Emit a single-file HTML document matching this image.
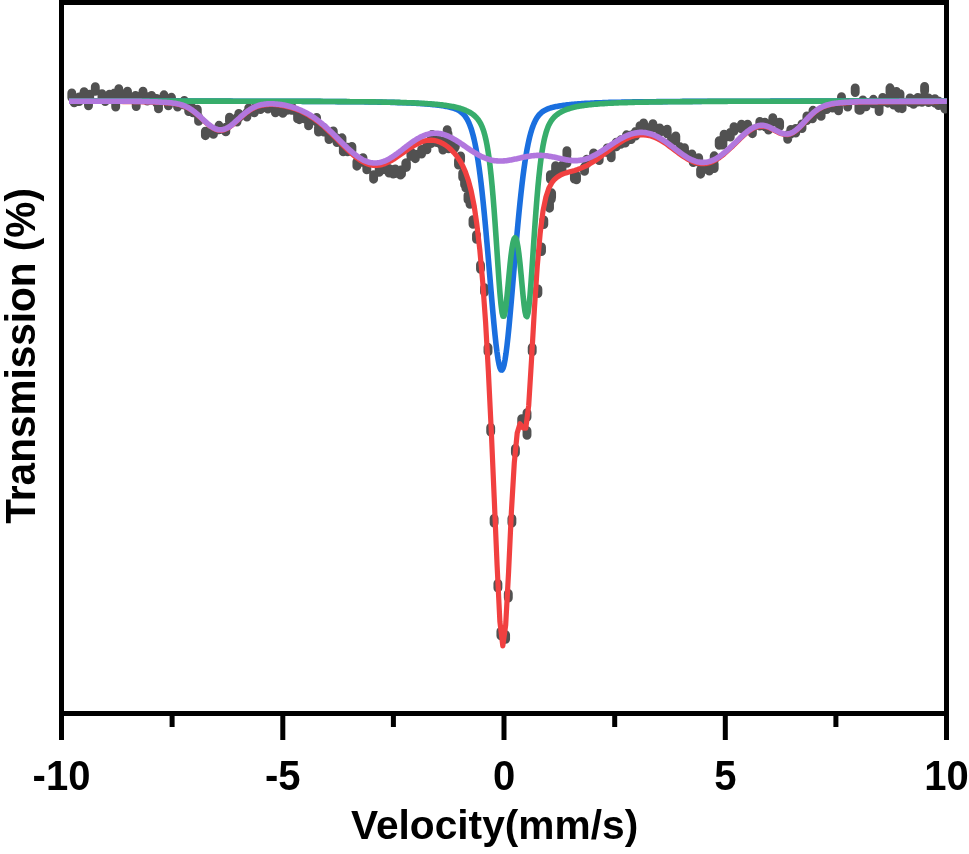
<!DOCTYPE html>
<html><head><meta charset="utf-8"><title>Mossbauer spectrum</title>
<style>
html,body{margin:0;padding:0;background:#fff;}
body{width:969px;height:854px;overflow:hidden;position:relative;font-family:"Liberation Sans",sans-serif;}
svg{position:absolute;left:0;top:0;display:block;}
text{font-family:"Liberation Sans",sans-serif;font-weight:bold;font-size:40px;fill:#000;}
</style></head><body>
<svg width="969" height="854" viewBox="0 0 969 854">
<rect width="969" height="854" fill="#fff"/>
<defs><clipPath id="cp"><rect x="61.5" y="2.5" width="885.4" height="711"/></clipPath></defs>
<g fill="#000">
<rect x="59" y="0" width="890" height="5"/>
<rect x="59" y="0" width="5" height="740"/>
<rect x="944" y="0" width="5" height="740"/>
<rect x="59" y="711" width="890" height="5"/>
<rect x="280.3" y="711" width="5" height="29"/>
<rect x="501.5" y="711" width="5" height="29"/>
<rect x="722.8" y="711" width="5" height="29"/>
<rect x="169.6" y="711" width="5" height="16"/>
<rect x="390.9" y="711" width="5" height="16"/>
<rect x="612.2" y="711" width="5" height="16"/>
<rect x="833.4" y="711" width="5" height="16"/>
</g>
<g clip-path="url(#cp)">
<g fill="none" stroke="#515151" stroke-width="8.9" stroke-linecap="round"><path d="M71.8 93.0v4.6M74.2 98.2v4.6M84.1 91.7v4.6M88.5 101.2v4.6M89.7 94.2v4.6M95.3 86.7v4.6M102.0 93.6v4.6M105.2 96.9v4.6M109.5 94.2v4.6M114.5 93.0v4.6M115.7 102.5v4.6M118.8 88.7v4.6M127.5 91.1v4.6M135.5 95.4v4.6M136.2 101.9v4.6M143.0 91.1v4.6M151.6 95.4v4.6M156.6 98.5v4.6M158.5 104.3v4.6M164.0 94.8v4.6M168.4 101.2v4.6M171.5 97.3v4.6M177.6 102.5v4.6M184.3 100.5v4.6M188.7 106.9v4.6M197.3 109.2v4.6M198.6 116.8v4.6M205.4 131.1v4.6M213.4 129.8v4.6M219.0 125.3v4.6M225.8 127.3v4.6M229.5 117.2v4.6M237.0 117.4v4.6M238.8 113.5v4.6M246.9 112.5v4.6M248.7 107.9v4.6M254.3 108.2v4.6M260.5 105.0v4.6M267.9 104.4v4.6M275.4 108.2v4.6M282.8 108.8v4.6M291.5 105.7v4.6M297.6 114.3v4.6M299.3 115.1v4.6M308.6 121.3v4.6M316.6 117.4v4.6M318.5 127.5v4.6M329.0 135.0v4.6M333.3 131.0v4.6M337.0 138.0v4.6M342.0 137.8v4.6M343.3 147.3v4.6M351.9 146.5v4.6M356.9 161.6v4.6M363.0 157.7v4.6M366.8 165.3v4.6M373.6 174.6v4.6M379.2 167.8v4.6M389.0 168.4v4.6M393.2 169.5v4.6M395.3 169.0v4.6M400.5 170.5v4.6M401.5 169.6v4.6M405.8 163.0v4.6M406.4 162.7v4.6M415.3 154.1v4.6M421.6 149.5v4.6M426.9 145.3v4.6M431.1 138.9v4.6M432.1 134.4v4.6M441.6 141.0v4.6M442.9 145.5v4.6M447.2 129.6v4.6M448.0 133.4v4.6M448.5 144.2v4.6M454.4 144.1v4.6M455.3 142.5v4.6M458.5 160.4v4.6M460.6 156.0v4.6M462.7 173.0v4.6M464.6 180.2v4.6M465.9 183.6v4.6M468.0 195.2v4.6M470.0 199.7v4.6M473.0 219.7v4.6M476.5 234.7v4.6M480.5 264.7v4.6M484.5 287.7v4.6M488.0 347.3v4.6M490.7 427.4v4.6M494.1 518.5v4.6M497.9 583.5v4.6M500.9 631.2v4.6M505.6 634.7v4.6M508.3 593.5v4.6M511.9 518.5v4.6M515.4 448.5v4.6M521.7 418.7v4.6M527.0 412.7v4.6M527.0 430.7v4.6M532.2 347.3v4.6M537.9 289.0v4.6M541.5 246.9v4.6M543.8 219.9v4.6M549.5 203.6v4.6M550.4 174.7v4.6M551.3 194.7v4.6M551.6 192.8v4.6M555.6 165.7v4.6M557.2 167.7v4.6M566.9 150.7v4.6M567.0 158.7v4.6M574.4 174.4v4.6M576.5 175.3v4.6M584.5 166.8v4.6M586.8 159.2v4.6M593.6 153.0v4.6M599.2 156.0v4.6M607.2 147.9v4.6M611.2 153.2v4.6M616.3 142.2v4.6M625.3 138.5v4.6M626.5 134.8v4.6M631.2 135.0v4.6M635.6 131.4v4.6M640.0 125.7v4.6M643.6 123.0v4.6M652.9 123.6v4.6M659.7 127.9v4.6M667.2 129.2v4.6M675.8 136.0v4.6M684.5 147.7v4.6M691.9 153.9v4.6M693.2 157.9v4.6M698.7 157.7v4.6M700.6 169.6v4.6M709.3 166.5v4.6M714.2 155.8v4.6M714.2 164.0v4.6M719.2 140.7v4.6M722.9 140.5v4.6M724.1 134.1v4.6M730.3 132.5v4.6M734.0 126.7v4.6M741.5 124.2v4.6M747.6 124.2v4.6M752.4 129.1v4.6M759.8 121.4v4.6M764.8 122.1v4.6M768.5 125.4v4.6M772.8 117.7v4.6M779.6 122.1v4.6M787.7 134.7v4.6M790.8 129.5v4.6M795.7 128.4v4.6M802.0 123.9v4.6M806.9 115.9v4.6M812.4 114.3v4.6M813.0 110.3v4.6M821.1 111.8v4.6M826.7 105.0v4.6M838.5 106.2v4.6M841.5 96.7v4.6M847.7 102.5v4.6M855.2 88.0v4.6M858.9 105.6v4.6M860.3 105.8v4.6M862.9 100.0v4.6M866.1 102.2v4.6M873.4 99.3v4.6M879.1 106.9v4.6M882.7 97.5v4.6M887.8 98.6v4.6M890.0 87.8v4.6M893.6 100.4v4.6M896.5 91.4v4.6M898.6 103.6v4.6M900.0 93.6v4.6M902.1 104.1v4.6M910.0 97.9v4.6M913.5 99.8v4.6M917.8 97.5v4.6M922.0 97.7v4.6M924.6 86.5v4.6M928.5 98.0v4.6M934.9 98.6v4.6M938.5 100.9v4.6M944.9 104.4v4.6M79.2 97.0v4.6M123.2 94.6v4.6M147.3 96.4v4.6M193.0 108.3v4.6M287.1 105.7v4.6M304.0 114.2v4.6M323.8 127.5v4.6M347.6 147.2v4.6M384.1 165.0v4.6M410.9 151.6v4.6M436.9 137.9v4.6M562.0 165.3v4.6M620.8 139.8v4.6M648.2 127.9v4.6M671.5 138.9v4.6M680.1 146.8v4.6M705.0 164.8v4.6M832.6 103.5v4.6"/></g>
<g fill="none" stroke-width="5.6" stroke-linejoin="miter" stroke-linecap="butt">
<path stroke="#F14040" stroke-width="5.2" stroke-linejoin="round" d="M69.0 101.4 L71.6 101.4 L74.4 101.4 L77.3 101.4 L80.2 101.4 L83.1 101.4 L85.9 101.4 L88.8 101.4 L91.7 101.5 L94.6 101.5 L97.4 101.5 L100.3 101.5 L103.2 101.5 L106.1 101.5 L108.9 101.5 L111.8 101.5 L114.7 101.5 L117.6 101.5 L120.4 101.5 L123.3 101.6 L126.2 101.6 L129.1 101.6 L131.9 101.6 L134.8 101.6 L137.7 101.7 L140.6 101.7 L143.4 101.8 L146.3 101.8 L149.2 101.9 L152.1 102.0 L154.9 102.1 L157.8 102.3 L160.7 102.4 L163.6 102.6 L166.4 102.8 L169.3 103.0 L172.2 103.3 L175.1 103.7 L177.9 104.2 L180.8 105.0 L183.7 106.0 L186.6 107.2 L189.4 108.8 L192.3 110.7 L195.2 112.9 L198.1 115.3 L200.9 118.0 L203.8 120.7 L206.7 123.3 L209.6 125.7 L212.4 127.7 L215.3 129.3 L218.2 130.2 L221.1 130.4 L223.9 129.9 L226.8 128.7 L229.7 127.0 L232.6 124.8 L235.4 122.4 L238.3 119.7 L241.2 117.1 L244.1 114.6 L246.9 112.3 L249.8 110.3 L252.7 108.6 L255.6 107.2 L258.4 106.1 L261.3 105.4 L264.2 104.9 L267.1 104.6 L269.9 104.5 L272.8 104.5 L275.7 104.7 L278.6 105.0 L281.4 105.4 L284.3 106.0 L287.2 106.6 L290.1 107.3 L292.9 108.2 L295.8 109.1 L298.7 110.2 L301.6 111.5 L304.4 112.9 L307.3 114.4 L310.2 116.2 L313.1 118.0 L315.9 120.1 L318.8 122.3 L321.7 124.6 L324.6 127.1 L327.4 129.8 L330.3 132.5 L333.2 135.3 L336.1 138.2 L338.9 141.1 L341.8 144.1 L344.7 147.0 L347.6 149.8 L350.4 152.5 L353.3 155.0 L356.2 157.4 L359.1 159.5 L361.9 161.3 L364.8 162.8 L367.7 164.0 L370.6 164.9 L373.4 165.4 L376.3 165.5 L379.2 165.2 L382.1 164.6 L384.9 163.7 L387.8 162.4 L390.7 161.0 L393.6 159.3 L396.4 157.4 L399.3 155.4 L402.2 153.4 L405.1 151.3 L407.9 149.3 L410.8 147.4 L413.7 145.7 L416.6 144.1 L419.4 142.7 L422.3 141.6 L425.2 140.8 L428.1 140.3 L430.9 140.2 L433.8 140.4 L436.7 141.0 L439.6 141.9 L442.4 143.3 L445.3 145.0 L448.2 147.1 L451.1 149.7 L453.9 152.7 L456.8 156.2 L459.7 160.4 L462.6 165.5 L465.4 171.9 L468.3 180.1 L471.2 191.0 L474.1 205.5 L476.9 224.7 L479.8 249.8 L482.7 281.9 L485.6 322.3 L488.4 372.0 L491.3 431.1 L494.2 497.7 L497.1 565.5 L499.9 621.8 L502.8 646.0 L505.7 624.8 L508.6 571.6 L511.4 511.7 L514.3 462.7 L517.2 433.0 L520.0 423.7 L522.9 427.8 L525.8 428.2 L528.7 405.5 L531.5 360.2 L534.4 309.4 L537.3 265.7 L540.2 233.1 L543.0 211.0 L545.9 197.0 L548.8 188.3 L551.7 182.9 L554.5 179.4 L557.4 177.0 L560.3 175.2 L563.2 173.9 L566.0 172.9 L568.9 172.0 L571.8 171.2 L574.7 170.4 L577.5 169.5 L580.4 168.4 L583.3 167.2 L586.2 165.9 L589.0 164.3 L591.9 162.6 L594.8 160.8 L597.7 158.8 L600.5 156.7 L603.4 154.5 L606.3 152.3 L609.2 150.2 L612.0 148.0 L614.9 145.9 L617.8 143.9 L620.7 142.0 L623.5 140.3 L626.4 138.8 L629.3 137.5 L632.2 136.4 L635.0 135.6 L637.9 135.1 L640.8 134.8 L643.7 134.8 L646.5 135.1 L649.4 135.6 L652.3 136.5 L655.2 137.6 L658.0 138.9 L660.9 140.5 L663.8 142.3 L666.7 144.2 L669.5 146.3 L672.4 148.4 L675.3 150.6 L678.2 152.8 L681.0 154.8 L683.9 156.8 L686.8 158.6 L689.7 160.2 L692.5 161.5 L695.4 162.6 L698.3 163.3 L701.2 163.7 L704.0 163.7 L706.9 163.3 L709.8 162.6 L712.7 161.5 L715.5 160.0 L718.4 158.3 L721.3 156.2 L724.2 153.9 L727.0 151.4 L729.9 148.7 L732.8 146.0 L735.7 143.1 L738.5 140.3 L741.4 137.5 L744.3 134.9 L747.2 132.4 L750.0 130.3 L752.9 128.5 L755.8 127.2 L758.7 126.4 L761.5 126.1 L764.4 126.3 L767.3 127.0 L770.2 128.2 L773.0 129.6 L775.9 131.2 L778.8 132.7 L781.7 133.8 L784.5 134.5 L787.4 134.6 L790.3 134.0 L793.2 132.7 L796.0 130.7 L798.9 128.1 L801.8 125.2 L804.7 122.1 L807.5 119.0 L810.4 116.0 L813.3 113.3 L816.2 110.9 L819.0 109.0 L821.9 107.4 L824.8 106.2 L827.7 105.2 L830.5 104.5 L833.4 103.9 L836.3 103.5 L839.2 103.2 L842.0 103.0 L844.9 102.8 L847.8 102.6 L850.7 102.4 L853.5 102.3 L856.4 102.2 L859.3 102.1 L862.2 102.0 L865.0 102.0 L867.9 101.9 L870.8 101.9 L873.7 101.9 L876.5 101.8 L879.4 101.8 L882.3 101.8 L885.2 101.8 L888.0 101.8 L890.9 101.7 L893.8 101.7 L896.7 101.7 L899.5 101.7 L902.4 101.7 L905.3 101.7 L908.2 101.7 L911.0 101.7 L913.9 101.6 L916.8 101.6 L919.7 101.6 L922.5 101.6 L925.4 101.6 L928.3 101.6 L931.2 101.6 L934.0 101.6 L936.9 101.6 L939.8 101.5 L942.7 101.5 L945.5 101.5 L948.0 101.5"/>
<path stroke="#1A6FDF" stroke-linejoin="round" d="M69.0 101.0 L70.0 101.0 L71.0 101.0 L72.0 101.0 L73.0 101.0 L74.0 101.0 L75.0 101.0 L76.0 101.0 L77.0 101.0 L78.0 101.0 L79.0 101.0 L80.0 101.0 L81.0 101.0 L82.0 101.0 L83.0 101.0 L84.0 101.0 L85.0 101.0 L86.0 101.0 L87.0 101.0 L88.0 101.0 L89.0 101.0 L90.0 101.0 L91.0 101.0 L92.0 101.0 L93.0 101.0 L94.0 101.0 L95.0 101.0 L96.0 101.0 L97.0 101.0 L98.0 101.0 L99.0 101.0 L100.0 101.0 L101.0 101.0 L102.0 101.0 L103.0 101.0 L104.0 101.0 L105.0 101.0 L106.0 101.0 L107.0 101.0 L108.0 101.0 L109.0 101.0 L110.0 101.0 L111.0 101.0 L112.0 101.0 L113.0 101.0 L114.0 101.0 L115.0 101.0 L116.0 101.0 L117.0 101.0 L118.0 101.0 L119.0 101.0 L120.0 101.0 L121.0 101.0 L122.0 101.0 L123.0 101.0 L124.0 101.0 L125.0 101.0 L126.0 101.0 L127.0 101.0 L128.0 101.0 L129.0 101.0 L130.0 101.0 L131.0 101.0 L132.0 101.0 L133.0 101.0 L134.0 101.0 L135.0 101.0 L136.0 101.0 L137.0 101.0 L138.0 101.0 L139.0 101.0 L140.0 101.0 L141.0 101.0 L142.0 101.0 L143.0 101.0 L144.0 101.0 L145.0 101.0 L146.0 101.0 L147.0 101.0 L148.0 101.0 L149.0 101.0 L150.0 101.0 L151.0 101.0 L152.0 101.0 L153.0 101.0 L154.0 101.0 L155.0 101.1 L156.0 101.1 L157.0 101.1 L158.0 101.1 L159.0 101.1 L160.0 101.1 L161.0 101.1 L162.0 101.1 L163.0 101.1 L164.0 101.1 L165.0 101.1 L166.0 101.1 L167.0 101.1 L168.0 101.1 L169.0 101.1 L170.0 101.1 L171.0 101.1 L172.0 101.1 L173.0 101.1 L174.0 101.1 L175.0 101.1 L176.0 101.1 L177.0 101.1 L178.0 101.1 L179.0 101.1 L180.0 101.1 L181.0 101.1 L182.0 101.1 L183.0 101.1 L184.0 101.1 L185.0 101.1 L186.0 101.1 L187.0 101.1 L188.0 101.1 L189.0 101.1 L190.0 101.1 L191.0 101.1 L192.0 101.1 L193.0 101.1 L194.0 101.1 L195.0 101.1 L196.0 101.1 L197.0 101.1 L198.0 101.1 L199.0 101.1 L200.0 101.1 L201.0 101.1 L202.0 101.1 L203.0 101.1 L204.0 101.1 L205.0 101.1 L206.0 101.1 L207.0 101.1 L208.0 101.1 L209.0 101.1 L210.0 101.1 L211.0 101.1 L212.0 101.1 L213.0 101.1 L214.0 101.1 L215.0 101.1 L216.0 101.1 L217.0 101.1 L218.0 101.1 L219.0 101.1 L220.0 101.1 L221.0 101.1 L222.0 101.1 L223.0 101.1 L224.0 101.1 L225.0 101.1 L226.0 101.1 L227.0 101.1 L228.0 101.1 L229.0 101.1 L230.0 101.1 L231.0 101.1 L232.0 101.1 L233.0 101.2 L234.0 101.2 L235.0 101.2 L236.0 101.2 L237.0 101.2 L238.0 101.2 L239.0 101.2 L240.0 101.2 L241.0 101.2 L242.0 101.2 L243.0 101.2 L244.0 101.2 L245.0 101.2 L246.0 101.2 L247.0 101.2 L248.0 101.2 L249.0 101.2 L250.0 101.2 L251.0 101.2 L252.0 101.2 L253.0 101.2 L254.0 101.2 L255.0 101.2 L256.0 101.2 L257.0 101.2 L258.0 101.2 L259.0 101.2 L260.0 101.2 L261.0 101.2 L262.0 101.2 L263.0 101.2 L264.0 101.2 L265.0 101.2 L266.0 101.2 L267.0 101.2 L268.0 101.2 L269.0 101.2 L270.0 101.2 L271.0 101.2 L272.0 101.2 L273.0 101.2 L274.0 101.2 L275.0 101.3 L276.0 101.3 L277.0 101.3 L278.0 101.3 L279.0 101.3 L280.0 101.3 L281.0 101.3 L282.0 101.3 L283.0 101.3 L284.0 101.3 L285.0 101.3 L286.0 101.3 L287.0 101.3 L288.0 101.3 L289.0 101.3 L290.0 101.3 L291.0 101.3 L292.0 101.3 L293.0 101.3 L294.0 101.3 L295.0 101.3 L296.0 101.3 L297.0 101.3 L298.0 101.3 L299.0 101.3 L300.0 101.3 L301.0 101.3 L302.0 101.4 L303.0 101.4 L304.0 101.4 L305.0 101.4 L306.0 101.4 L307.0 101.4 L308.0 101.4 L309.0 101.4 L310.0 101.4 L311.0 101.4 L312.0 101.4 L313.0 101.4 L314.0 101.4 L315.0 101.4 L316.0 101.4 L317.0 101.4 L318.0 101.4 L319.0 101.4 L320.0 101.4 L321.0 101.5 L322.0 101.5 L323.0 101.5 L324.0 101.5 L325.0 101.5 L326.0 101.5 L327.0 101.5 L328.0 101.5 L329.0 101.5 L330.0 101.5 L331.0 101.5 L332.0 101.5 L333.0 101.5 L334.0 101.5 L335.0 101.5 L336.0 101.6 L337.0 101.6 L338.0 101.6 L339.0 101.6 L340.0 101.6 L341.0 101.6 L342.0 101.6 L343.0 101.6 L344.0 101.6 L345.0 101.6 L346.0 101.6 L347.0 101.7 L348.0 101.7 L349.0 101.7 L350.0 101.7 L351.0 101.7 L352.0 101.7 L353.0 101.7 L354.0 101.7 L355.0 101.7 L356.0 101.7 L357.0 101.8 L358.0 101.8 L359.0 101.8 L360.0 101.8 L361.0 101.8 L362.0 101.8 L363.0 101.8 L364.0 101.8 L365.0 101.9 L366.0 101.9 L367.0 101.9 L368.0 101.9 L369.0 101.9 L370.0 101.9 L371.0 101.9 L372.0 102.0 L373.0 102.0 L374.0 102.0 L375.0 102.0 L376.0 102.0 L377.0 102.0 L378.0 102.1 L379.0 102.1 L380.0 102.1 L381.0 102.1 L382.0 102.1 L383.0 102.2 L384.0 102.2 L385.0 102.2 L386.0 102.2 L387.0 102.3 L388.0 102.3 L389.0 102.3 L390.0 102.3 L391.0 102.4 L392.0 102.4 L393.0 102.4 L394.0 102.4 L395.0 102.5 L396.0 102.5 L397.0 102.5 L398.0 102.6 L399.0 102.6 L400.0 102.6 L401.0 102.7 L402.0 102.7 L403.0 102.7 L404.0 102.8 L405.0 102.8 L406.0 102.8 L407.0 102.9 L408.0 102.9 L409.0 103.0 L410.0 103.0 L411.0 103.0 L412.0 103.1 L413.0 103.1 L414.0 103.2 L415.0 103.2 L416.0 103.3 L417.0 103.4 L418.0 103.4 L419.0 103.5 L420.0 103.5 L421.0 103.6 L422.0 103.7 L423.0 103.7 L424.0 103.8 L425.0 103.9 L426.0 103.9 L427.0 104.0 L428.0 104.1 L429.0 104.2 L430.0 104.3 L431.0 104.4 L432.0 104.5 L433.0 104.6 L434.0 104.7 L435.0 104.8 L436.0 104.9 L437.0 105.0 L438.0 105.1 L439.0 105.3 L440.0 105.4 L441.0 105.5 L442.0 105.7 L443.0 105.8 L444.0 106.0 L445.0 106.2 L446.0 106.4 L447.0 106.6 L448.0 106.8 L449.0 107.0 L450.0 107.2 L451.0 107.5 L452.0 107.8 L453.0 108.1 L454.0 108.4 L455.0 108.7 L456.0 109.1 L457.0 109.6 L458.0 110.1 L459.0 110.6 L460.0 111.2 L461.0 112.0 L462.0 112.8 L463.0 113.7 L464.0 114.8 L465.0 116.0 L466.0 117.4 L467.0 119.0 L468.0 120.9 L469.0 123.0 L470.0 125.5 L471.0 128.2 L472.0 131.4 L473.0 135.0 L474.0 139.0 L475.0 143.5 L476.0 148.6 L477.0 154.2 L478.0 160.4 L479.0 167.2 L480.0 174.7 L481.0 182.7 L482.0 191.4 L483.0 200.7 L484.0 210.6 L485.0 221.0 L486.0 231.9 L487.0 243.2 L488.0 254.8 L489.0 266.7 L490.0 278.6 L491.0 290.6 L492.0 302.3 L493.0 313.7 L494.0 324.6 L495.0 334.7 L496.0 344.0 L497.0 352.1 L498.0 358.9 L499.0 364.2 L500.0 367.9 L501.0 369.9 L502.0 370.1 L503.0 368.4 L504.0 365.1 L505.0 360.0 L506.0 353.5 L507.0 345.6 L508.0 336.6 L509.0 326.6 L510.0 315.8 L511.0 304.5 L512.0 292.8 L513.0 280.9 L514.0 269.0 L515.0 257.1 L516.0 245.4 L517.0 234.0 L518.0 223.1 L519.0 212.6 L520.0 202.6 L521.0 193.2 L522.0 184.4 L523.0 176.2 L524.0 168.6 L525.0 161.7 L526.0 155.4 L527.0 149.6 L528.0 144.5 L529.0 139.9 L530.0 135.7 L531.0 132.1 L532.0 128.8 L533.0 126.0 L534.0 123.5 L535.0 121.3 L536.0 119.4 L537.0 117.7 L538.0 116.3 L539.0 115.0 L540.0 113.9 L541.0 112.9 L542.0 112.1 L543.0 111.4 L544.0 110.7 L545.0 110.2 L546.0 109.7 L547.0 109.2 L548.0 108.8 L549.0 108.4 L550.0 108.1 L551.0 107.8 L552.0 107.5 L553.0 107.3 L554.0 107.0 L555.0 106.8 L556.0 106.6 L557.0 106.4 L558.0 106.2 L559.0 106.0 L560.0 105.9 L561.0 105.7 L562.0 105.6 L563.0 105.4 L564.0 105.3 L565.0 105.2 L566.0 105.0 L567.0 104.9 L568.0 104.8 L569.0 104.7 L570.0 104.6 L571.0 104.5 L572.0 104.4 L573.0 104.3 L574.0 104.2 L575.0 104.1 L576.0 104.0 L577.0 104.0 L578.0 103.9 L579.0 103.8 L580.0 103.7 L581.0 103.7 L582.0 103.6 L583.0 103.5 L584.0 103.5 L585.0 103.4 L586.0 103.4 L587.0 103.3 L588.0 103.3 L589.0 103.2 L590.0 103.2 L591.0 103.1 L592.0 103.1 L593.0 103.0 L594.0 103.0 L595.0 102.9 L596.0 102.9 L597.0 102.8 L598.0 102.8 L599.0 102.8 L600.0 102.7 L601.0 102.7 L602.0 102.7 L603.0 102.6 L604.0 102.6 L605.0 102.6 L606.0 102.5 L607.0 102.5 L608.0 102.5 L609.0 102.4 L610.0 102.4 L611.0 102.4 L612.0 102.4 L613.0 102.3 L614.0 102.3 L615.0 102.3 L616.0 102.3 L617.0 102.2 L618.0 102.2 L619.0 102.2 L620.0 102.2 L621.0 102.2 L622.0 102.1 L623.0 102.1 L624.0 102.1 L625.0 102.1 L626.0 102.1 L627.0 102.0 L628.0 102.0 L629.0 102.0 L630.0 102.0 L631.0 102.0 L632.0 102.0 L633.0 101.9 L634.0 101.9 L635.0 101.9 L636.0 101.9 L637.0 101.9 L638.0 101.9 L639.0 101.8 L640.0 101.8 L641.0 101.8 L642.0 101.8 L643.0 101.8 L644.0 101.8 L645.0 101.8 L646.0 101.8 L647.0 101.7 L648.0 101.7 L649.0 101.7 L650.0 101.7 L651.0 101.7 L652.0 101.7 L653.0 101.7 L654.0 101.7 L655.0 101.7 L656.0 101.7 L657.0 101.6 L658.0 101.6 L659.0 101.6 L660.0 101.6 L661.0 101.6 L662.0 101.6 L663.0 101.6 L664.0 101.6 L665.0 101.6 L666.0 101.6 L667.0 101.6 L668.0 101.5 L669.0 101.5 L670.0 101.5 L671.0 101.5 L672.0 101.5 L673.0 101.5 L674.0 101.5 L675.0 101.5 L676.0 101.5 L677.0 101.5 L678.0 101.5 L679.0 101.5 L680.0 101.5 L681.0 101.5 L682.0 101.5 L683.0 101.4 L684.0 101.4 L685.0 101.4 L686.0 101.4 L687.0 101.4 L688.0 101.4 L689.0 101.4 L690.0 101.4 L691.0 101.4 L692.0 101.4 L693.0 101.4 L694.0 101.4 L695.0 101.4 L696.0 101.4 L697.0 101.4 L698.0 101.4 L699.0 101.4 L700.0 101.4 L701.0 101.4 L702.0 101.3 L703.0 101.3 L704.0 101.3 L705.0 101.3 L706.0 101.3 L707.0 101.3 L708.0 101.3 L709.0 101.3 L710.0 101.3 L711.0 101.3 L712.0 101.3 L713.0 101.3 L714.0 101.3 L715.0 101.3 L716.0 101.3 L717.0 101.3 L718.0 101.3 L719.0 101.3 L720.0 101.3 L721.0 101.3 L722.0 101.3 L723.0 101.3 L724.0 101.3 L725.0 101.3 L726.0 101.3 L727.0 101.3 L728.0 101.3 L729.0 101.2 L730.0 101.2 L731.0 101.2 L732.0 101.2 L733.0 101.2 L734.0 101.2 L735.0 101.2 L736.0 101.2 L737.0 101.2 L738.0 101.2 L739.0 101.2 L740.0 101.2 L741.0 101.2 L742.0 101.2 L743.0 101.2 L744.0 101.2 L745.0 101.2 L746.0 101.2 L747.0 101.2 L748.0 101.2 L749.0 101.2 L750.0 101.2 L751.0 101.2 L752.0 101.2 L753.0 101.2 L754.0 101.2 L755.0 101.2 L756.0 101.2 L757.0 101.2 L758.0 101.2 L759.0 101.2 L760.0 101.2 L761.0 101.2 L762.0 101.2 L763.0 101.2 L764.0 101.2 L765.0 101.2 L766.0 101.2 L767.0 101.2 L768.0 101.2 L769.0 101.2 L770.0 101.2 L771.0 101.1 L772.0 101.1 L773.0 101.1 L774.0 101.1 L775.0 101.1 L776.0 101.1 L777.0 101.1 L778.0 101.1 L779.0 101.1 L780.0 101.1 L781.0 101.1 L782.0 101.1 L783.0 101.1 L784.0 101.1 L785.0 101.1 L786.0 101.1 L787.0 101.1 L788.0 101.1 L789.0 101.1 L790.0 101.1 L791.0 101.1 L792.0 101.1 L793.0 101.1 L794.0 101.1 L795.0 101.1 L796.0 101.1 L797.0 101.1 L798.0 101.1 L799.0 101.1 L800.0 101.1 L801.0 101.1 L802.0 101.1 L803.0 101.1 L804.0 101.1 L805.0 101.1 L806.0 101.1 L807.0 101.1 L808.0 101.1 L809.0 101.1 L810.0 101.1 L811.0 101.1 L812.0 101.1 L813.0 101.1 L814.0 101.1 L815.0 101.1 L816.0 101.1 L817.0 101.1 L818.0 101.1 L819.0 101.1 L820.0 101.1 L821.0 101.1 L822.0 101.1 L823.0 101.1 L824.0 101.1 L825.0 101.1 L826.0 101.1 L827.0 101.1 L828.0 101.1 L829.0 101.1 L830.0 101.1 L831.0 101.1 L832.0 101.1 L833.0 101.1 L834.0 101.1 L835.0 101.1 L836.0 101.1 L837.0 101.1 L838.0 101.1 L839.0 101.1 L840.0 101.1 L841.0 101.1 L842.0 101.1 L843.0 101.1 L844.0 101.1 L845.0 101.1 L846.0 101.1 L847.0 101.1 L848.0 101.1 L849.0 101.0 L850.0 101.0 L851.0 101.0 L852.0 101.0 L853.0 101.0 L854.0 101.0 L855.0 101.0 L856.0 101.0 L857.0 101.0 L858.0 101.0 L859.0 101.0 L860.0 101.0 L861.0 101.0 L862.0 101.0 L863.0 101.0 L864.0 101.0 L865.0 101.0 L866.0 101.0 L867.0 101.0 L868.0 101.0 L869.0 101.0 L870.0 101.0 L871.0 101.0 L872.0 101.0 L873.0 101.0 L874.0 101.0 L875.0 101.0 L876.0 101.0 L877.0 101.0 L878.0 101.0 L879.0 101.0 L880.0 101.0 L881.0 101.0 L882.0 101.0 L883.0 101.0 L884.0 101.0 L885.0 101.0 L886.0 101.0 L887.0 101.0 L888.0 101.0 L889.0 101.0 L890.0 101.0 L891.0 101.0 L892.0 101.0 L893.0 101.0 L894.0 101.0 L895.0 101.0 L896.0 101.0 L897.0 101.0 L898.0 101.0 L899.0 101.0 L900.0 101.0 L901.0 101.0 L902.0 101.0 L903.0 101.0 L904.0 101.0 L905.0 101.0 L906.0 101.0 L907.0 101.0 L908.0 101.0 L909.0 101.0 L910.0 101.0 L911.0 101.0 L912.0 101.0 L913.0 101.0 L914.0 101.0 L915.0 101.0 L916.0 101.0 L917.0 101.0 L918.0 101.0 L919.0 101.0 L920.0 101.0 L921.0 101.0 L922.0 101.0 L923.0 101.0 L924.0 101.0 L925.0 101.0 L926.0 101.0 L927.0 101.0 L928.0 101.0 L929.0 101.0 L930.0 101.0 L931.0 101.0 L932.0 101.0 L933.0 101.0 L934.0 101.0 L935.0 101.0 L936.0 101.0 L937.0 101.0 L938.0 101.0 L939.0 101.0 L940.0 101.0 L941.0 101.0 L942.0 101.0 L943.0 101.0 L944.0 101.0 L945.0 101.0 L946.0 101.0 L947.0 101.0"/>
<path stroke="#37AD6B" stroke-linejoin="round" d="M69.0 101.0 L70.0 101.0 L71.0 101.0 L72.0 101.0 L73.0 101.0 L74.0 101.0 L75.0 101.0 L76.0 101.0 L77.0 101.0 L78.0 101.0 L79.0 101.0 L80.0 101.0 L81.0 101.0 L82.0 101.0 L83.0 101.0 L84.0 101.0 L85.0 101.0 L86.0 101.0 L87.0 101.0 L88.0 101.0 L89.0 101.0 L90.0 101.0 L91.0 101.0 L92.0 101.0 L93.0 101.0 L94.0 101.0 L95.0 101.0 L96.0 101.0 L97.0 101.0 L98.0 101.0 L99.0 101.0 L100.0 101.0 L101.0 101.0 L102.0 101.0 L103.0 101.0 L104.0 101.0 L105.0 101.0 L106.0 101.0 L107.0 101.0 L108.0 101.0 L109.0 101.0 L110.0 101.0 L111.0 101.0 L112.0 101.0 L113.0 101.0 L114.0 101.0 L115.0 101.0 L116.0 101.0 L117.0 101.0 L118.0 101.0 L119.0 101.0 L120.0 101.0 L121.0 101.0 L122.0 101.0 L123.0 101.0 L124.0 101.0 L125.0 101.0 L126.0 101.0 L127.0 101.0 L128.0 101.0 L129.0 101.0 L130.0 101.0 L131.0 101.0 L132.0 101.0 L133.0 101.0 L134.0 101.0 L135.0 101.0 L136.0 101.0 L137.0 101.0 L138.0 101.0 L139.0 101.0 L140.0 101.0 L141.0 101.0 L142.0 101.0 L143.0 101.0 L144.0 101.0 L145.0 101.0 L146.0 101.0 L147.0 101.0 L148.0 101.1 L149.0 101.1 L150.0 101.1 L151.0 101.1 L152.0 101.1 L153.0 101.1 L154.0 101.1 L155.0 101.1 L156.0 101.1 L157.0 101.1 L158.0 101.1 L159.0 101.1 L160.0 101.1 L161.0 101.1 L162.0 101.1 L163.0 101.1 L164.0 101.1 L165.0 101.1 L166.0 101.1 L167.0 101.1 L168.0 101.1 L169.0 101.1 L170.0 101.1 L171.0 101.1 L172.0 101.1 L173.0 101.1 L174.0 101.1 L175.0 101.1 L176.0 101.1 L177.0 101.1 L178.0 101.1 L179.0 101.1 L180.0 101.1 L181.0 101.1 L182.0 101.1 L183.0 101.1 L184.0 101.1 L185.0 101.1 L186.0 101.1 L187.0 101.1 L188.0 101.1 L189.0 101.1 L190.0 101.1 L191.0 101.1 L192.0 101.1 L193.0 101.1 L194.0 101.1 L195.0 101.1 L196.0 101.1 L197.0 101.1 L198.0 101.1 L199.0 101.1 L200.0 101.1 L201.0 101.1 L202.0 101.1 L203.0 101.1 L204.0 101.1 L205.0 101.1 L206.0 101.1 L207.0 101.1 L208.0 101.1 L209.0 101.1 L210.0 101.1 L211.0 101.1 L212.0 101.1 L213.0 101.1 L214.0 101.1 L215.0 101.1 L216.0 101.1 L217.0 101.1 L218.0 101.1 L219.0 101.1 L220.0 101.1 L221.0 101.1 L222.0 101.1 L223.0 101.1 L224.0 101.1 L225.0 101.1 L226.0 101.1 L227.0 101.1 L228.0 101.1 L229.0 101.1 L230.0 101.1 L231.0 101.2 L232.0 101.2 L233.0 101.2 L234.0 101.2 L235.0 101.2 L236.0 101.2 L237.0 101.2 L238.0 101.2 L239.0 101.2 L240.0 101.2 L241.0 101.2 L242.0 101.2 L243.0 101.2 L244.0 101.2 L245.0 101.2 L246.0 101.2 L247.0 101.2 L248.0 101.2 L249.0 101.2 L250.0 101.2 L251.0 101.2 L252.0 101.2 L253.0 101.2 L254.0 101.2 L255.0 101.2 L256.0 101.2 L257.0 101.2 L258.0 101.2 L259.0 101.2 L260.0 101.2 L261.0 101.2 L262.0 101.2 L263.0 101.2 L264.0 101.2 L265.0 101.2 L266.0 101.2 L267.0 101.2 L268.0 101.2 L269.0 101.2 L270.0 101.2 L271.0 101.2 L272.0 101.2 L273.0 101.2 L274.0 101.2 L275.0 101.3 L276.0 101.3 L277.0 101.3 L278.0 101.3 L279.0 101.3 L280.0 101.3 L281.0 101.3 L282.0 101.3 L283.0 101.3 L284.0 101.3 L285.0 101.3 L286.0 101.3 L287.0 101.3 L288.0 101.3 L289.0 101.3 L290.0 101.3 L291.0 101.3 L292.0 101.3 L293.0 101.3 L294.0 101.3 L295.0 101.3 L296.0 101.3 L297.0 101.3 L298.0 101.3 L299.0 101.3 L300.0 101.3 L301.0 101.3 L302.0 101.3 L303.0 101.4 L304.0 101.4 L305.0 101.4 L306.0 101.4 L307.0 101.4 L308.0 101.4 L309.0 101.4 L310.0 101.4 L311.0 101.4 L312.0 101.4 L313.0 101.4 L314.0 101.4 L315.0 101.4 L316.0 101.4 L317.0 101.4 L318.0 101.4 L319.0 101.4 L320.0 101.4 L321.0 101.4 L322.0 101.4 L323.0 101.5 L324.0 101.5 L325.0 101.5 L326.0 101.5 L327.0 101.5 L328.0 101.5 L329.0 101.5 L330.0 101.5 L331.0 101.5 L332.0 101.5 L333.0 101.5 L334.0 101.5 L335.0 101.5 L336.0 101.5 L337.0 101.5 L338.0 101.6 L339.0 101.6 L340.0 101.6 L341.0 101.6 L342.0 101.6 L343.0 101.6 L344.0 101.6 L345.0 101.6 L346.0 101.6 L347.0 101.6 L348.0 101.6 L349.0 101.6 L350.0 101.7 L351.0 101.7 L352.0 101.7 L353.0 101.7 L354.0 101.7 L355.0 101.7 L356.0 101.7 L357.0 101.7 L358.0 101.7 L359.0 101.7 L360.0 101.8 L361.0 101.8 L362.0 101.8 L363.0 101.8 L364.0 101.8 L365.0 101.8 L366.0 101.8 L367.0 101.8 L368.0 101.8 L369.0 101.9 L370.0 101.9 L371.0 101.9 L372.0 101.9 L373.0 101.9 L374.0 101.9 L375.0 101.9 L376.0 102.0 L377.0 102.0 L378.0 102.0 L379.0 102.0 L380.0 102.0 L381.0 102.0 L382.0 102.1 L383.0 102.1 L384.0 102.1 L385.0 102.1 L386.0 102.1 L387.0 102.2 L388.0 102.2 L389.0 102.2 L390.0 102.2 L391.0 102.2 L392.0 102.3 L393.0 102.3 L394.0 102.3 L395.0 102.3 L396.0 102.4 L397.0 102.4 L398.0 102.4 L399.0 102.4 L400.0 102.5 L401.0 102.5 L402.0 102.5 L403.0 102.6 L404.0 102.6 L405.0 102.6 L406.0 102.6 L407.0 102.7 L408.0 102.7 L409.0 102.8 L410.0 102.8 L411.0 102.8 L412.0 102.9 L413.0 102.9 L414.0 102.9 L415.0 103.0 L416.0 103.0 L417.0 103.1 L418.0 103.1 L419.0 103.2 L420.0 103.2 L421.0 103.3 L422.0 103.3 L423.0 103.4 L424.0 103.4 L425.0 103.5 L426.0 103.6 L427.0 103.6 L428.0 103.7 L429.0 103.8 L430.0 103.8 L431.0 103.9 L432.0 104.0 L433.0 104.1 L434.0 104.1 L435.0 104.2 L436.0 104.3 L437.0 104.4 L438.0 104.5 L439.0 104.6 L440.0 104.7 L441.0 104.8 L442.0 104.9 L443.0 105.0 L444.0 105.2 L445.0 105.3 L446.0 105.4 L447.0 105.6 L448.0 105.7 L449.0 105.9 L450.0 106.1 L451.0 106.2 L452.0 106.4 L453.0 106.6 L454.0 106.8 L455.0 107.0 L456.0 107.3 L457.0 107.5 L458.0 107.8 L459.0 108.0 L460.0 108.3 L461.0 108.6 L462.0 108.9 L463.0 109.3 L464.0 109.7 L465.0 110.0 L466.0 110.5 L467.0 110.9 L468.0 111.4 L469.0 111.9 L470.0 112.5 L471.0 113.1 L472.0 113.8 L473.0 114.5 L474.0 115.3 L475.0 116.2 L476.0 117.2 L477.0 118.3 L478.0 119.5 L479.0 120.9 L480.0 122.5 L481.0 124.4 L482.0 126.6 L483.0 129.2 L484.0 132.2 L485.0 135.8 L486.0 140.0 L487.0 145.0 L488.0 150.9 L489.0 157.7 L490.0 165.6 L491.0 174.6 L492.0 184.7 L493.0 196.1 L494.0 208.6 L495.0 222.1 L496.0 236.5 L497.0 251.4 L498.0 266.3 L499.0 280.7 L500.0 293.7 L501.0 304.5 L502.0 312.2 L503.0 316.2 L504.0 316.2 L505.0 312.4 L506.0 305.5 L507.0 296.3 L508.0 285.9 L509.0 275.2 L510.0 265.0 L511.0 255.9 L512.0 248.3 L513.0 242.6 L514.0 239.0 L515.0 237.7 L516.0 238.7 L517.0 242.0 L518.0 247.3 L519.0 254.7 L520.0 263.6 L521.0 273.7 L522.0 284.4 L523.0 294.9 L524.0 304.3 L525.0 311.6 L526.0 315.9 L527.0 316.5 L528.0 313.0 L529.0 305.8 L530.0 295.4 L531.0 282.6 L532.0 268.4 L533.0 253.5 L534.0 238.6 L535.0 224.1 L536.0 210.5 L537.0 197.8 L538.0 186.3 L539.0 175.9 L540.0 166.8 L541.0 158.7 L542.0 151.8 L543.0 145.8 L544.0 140.7 L545.0 136.4 L546.0 132.7 L547.0 129.6 L548.0 126.9 L549.0 124.7 L550.0 122.8 L551.0 121.1 L552.0 119.7 L553.0 118.4 L554.0 117.3 L555.0 116.3 L556.0 115.4 L557.0 114.6 L558.0 113.9 L559.0 113.2 L560.0 112.6 L561.0 112.0 L562.0 111.5 L563.0 111.0 L564.0 110.5 L565.0 110.1 L566.0 109.7 L567.0 109.3 L568.0 109.0 L569.0 108.7 L570.0 108.4 L571.0 108.1 L572.0 107.8 L573.0 107.5 L574.0 107.3 L575.0 107.1 L576.0 106.8 L577.0 106.6 L578.0 106.4 L579.0 106.3 L580.0 106.1 L581.0 105.9 L582.0 105.8 L583.0 105.6 L584.0 105.5 L585.0 105.3 L586.0 105.2 L587.0 105.1 L588.0 104.9 L589.0 104.8 L590.0 104.7 L591.0 104.6 L592.0 104.5 L593.0 104.4 L594.0 104.3 L595.0 104.2 L596.0 104.1 L597.0 104.1 L598.0 104.0 L599.0 103.9 L600.0 103.8 L601.0 103.8 L602.0 103.7 L603.0 103.6 L604.0 103.6 L605.0 103.5 L606.0 103.4 L607.0 103.4 L608.0 103.3 L609.0 103.3 L610.0 103.2 L611.0 103.2 L612.0 103.1 L613.0 103.1 L614.0 103.0 L615.0 103.0 L616.0 103.0 L617.0 102.9 L618.0 102.9 L619.0 102.8 L620.0 102.8 L621.0 102.8 L622.0 102.7 L623.0 102.7 L624.0 102.7 L625.0 102.6 L626.0 102.6 L627.0 102.6 L628.0 102.5 L629.0 102.5 L630.0 102.5 L631.0 102.4 L632.0 102.4 L633.0 102.4 L634.0 102.4 L635.0 102.3 L636.0 102.3 L637.0 102.3 L638.0 102.3 L639.0 102.2 L640.0 102.2 L641.0 102.2 L642.0 102.2 L643.0 102.2 L644.0 102.1 L645.0 102.1 L646.0 102.1 L647.0 102.1 L648.0 102.1 L649.0 102.0 L650.0 102.0 L651.0 102.0 L652.0 102.0 L653.0 102.0 L654.0 102.0 L655.0 102.0 L656.0 101.9 L657.0 101.9 L658.0 101.9 L659.0 101.9 L660.0 101.9 L661.0 101.9 L662.0 101.9 L663.0 101.8 L664.0 101.8 L665.0 101.8 L666.0 101.8 L667.0 101.8 L668.0 101.8 L669.0 101.8 L670.0 101.8 L671.0 101.7 L672.0 101.7 L673.0 101.7 L674.0 101.7 L675.0 101.7 L676.0 101.7 L677.0 101.7 L678.0 101.7 L679.0 101.7 L680.0 101.7 L681.0 101.6 L682.0 101.6 L683.0 101.6 L684.0 101.6 L685.0 101.6 L686.0 101.6 L687.0 101.6 L688.0 101.6 L689.0 101.6 L690.0 101.6 L691.0 101.6 L692.0 101.6 L693.0 101.5 L694.0 101.5 L695.0 101.5 L696.0 101.5 L697.0 101.5 L698.0 101.5 L699.0 101.5 L700.0 101.5 L701.0 101.5 L702.0 101.5 L703.0 101.5 L704.0 101.5 L705.0 101.5 L706.0 101.5 L707.0 101.5 L708.0 101.4 L709.0 101.4 L710.0 101.4 L711.0 101.4 L712.0 101.4 L713.0 101.4 L714.0 101.4 L715.0 101.4 L716.0 101.4 L717.0 101.4 L718.0 101.4 L719.0 101.4 L720.0 101.4 L721.0 101.4 L722.0 101.4 L723.0 101.4 L724.0 101.4 L725.0 101.4 L726.0 101.4 L727.0 101.4 L728.0 101.3 L729.0 101.3 L730.0 101.3 L731.0 101.3 L732.0 101.3 L733.0 101.3 L734.0 101.3 L735.0 101.3 L736.0 101.3 L737.0 101.3 L738.0 101.3 L739.0 101.3 L740.0 101.3 L741.0 101.3 L742.0 101.3 L743.0 101.3 L744.0 101.3 L745.0 101.3 L746.0 101.3 L747.0 101.3 L748.0 101.3 L749.0 101.3 L750.0 101.3 L751.0 101.3 L752.0 101.3 L753.0 101.3 L754.0 101.3 L755.0 101.3 L756.0 101.3 L757.0 101.2 L758.0 101.2 L759.0 101.2 L760.0 101.2 L761.0 101.2 L762.0 101.2 L763.0 101.2 L764.0 101.2 L765.0 101.2 L766.0 101.2 L767.0 101.2 L768.0 101.2 L769.0 101.2 L770.0 101.2 L771.0 101.2 L772.0 101.2 L773.0 101.2 L774.0 101.2 L775.0 101.2 L776.0 101.2 L777.0 101.2 L778.0 101.2 L779.0 101.2 L780.0 101.2 L781.0 101.2 L782.0 101.2 L783.0 101.2 L784.0 101.2 L785.0 101.2 L786.0 101.2 L787.0 101.2 L788.0 101.2 L789.0 101.2 L790.0 101.2 L791.0 101.2 L792.0 101.2 L793.0 101.2 L794.0 101.2 L795.0 101.2 L796.0 101.2 L797.0 101.2 L798.0 101.2 L799.0 101.2 L800.0 101.2 L801.0 101.1 L802.0 101.1 L803.0 101.1 L804.0 101.1 L805.0 101.1 L806.0 101.1 L807.0 101.1 L808.0 101.1 L809.0 101.1 L810.0 101.1 L811.0 101.1 L812.0 101.1 L813.0 101.1 L814.0 101.1 L815.0 101.1 L816.0 101.1 L817.0 101.1 L818.0 101.1 L819.0 101.1 L820.0 101.1 L821.0 101.1 L822.0 101.1 L823.0 101.1 L824.0 101.1 L825.0 101.1 L826.0 101.1 L827.0 101.1 L828.0 101.1 L829.0 101.1 L830.0 101.1 L831.0 101.1 L832.0 101.1 L833.0 101.1 L834.0 101.1 L835.0 101.1 L836.0 101.1 L837.0 101.1 L838.0 101.1 L839.0 101.1 L840.0 101.1 L841.0 101.1 L842.0 101.1 L843.0 101.1 L844.0 101.1 L845.0 101.1 L846.0 101.1 L847.0 101.1 L848.0 101.1 L849.0 101.1 L850.0 101.1 L851.0 101.1 L852.0 101.1 L853.0 101.1 L854.0 101.1 L855.0 101.1 L856.0 101.1 L857.0 101.1 L858.0 101.1 L859.0 101.1 L860.0 101.1 L861.0 101.1 L862.0 101.1 L863.0 101.1 L864.0 101.1 L865.0 101.1 L866.0 101.1 L867.0 101.1 L868.0 101.1 L869.0 101.1 L870.0 101.1 L871.0 101.1 L872.0 101.1 L873.0 101.1 L874.0 101.1 L875.0 101.1 L876.0 101.1 L877.0 101.1 L878.0 101.1 L879.0 101.1 L880.0 101.1 L881.0 101.1 L882.0 101.1 L883.0 101.0 L884.0 101.0 L885.0 101.0 L886.0 101.0 L887.0 101.0 L888.0 101.0 L889.0 101.0 L890.0 101.0 L891.0 101.0 L892.0 101.0 L893.0 101.0 L894.0 101.0 L895.0 101.0 L896.0 101.0 L897.0 101.0 L898.0 101.0 L899.0 101.0 L900.0 101.0 L901.0 101.0 L902.0 101.0 L903.0 101.0 L904.0 101.0 L905.0 101.0 L906.0 101.0 L907.0 101.0 L908.0 101.0 L909.0 101.0 L910.0 101.0 L911.0 101.0 L912.0 101.0 L913.0 101.0 L914.0 101.0 L915.0 101.0 L916.0 101.0 L917.0 101.0 L918.0 101.0 L919.0 101.0 L920.0 101.0 L921.0 101.0 L922.0 101.0 L923.0 101.0 L924.0 101.0 L925.0 101.0 L926.0 101.0 L927.0 101.0 L928.0 101.0 L929.0 101.0 L930.0 101.0 L931.0 101.0 L932.0 101.0 L933.0 101.0 L934.0 101.0 L935.0 101.0 L936.0 101.0 L937.0 101.0 L938.0 101.0 L939.0 101.0 L940.0 101.0 L941.0 101.0 L942.0 101.0 L943.0 101.0 L944.0 101.0 L945.0 101.0 L946.0 101.0 L947.0 101.0"/>
<path stroke="#B177DE" stroke-linejoin="round" d="M69.0 101.2 L70.0 101.2 L71.0 101.2 L72.0 101.2 L73.0 101.2 L74.0 101.2 L75.0 101.2 L76.0 101.2 L77.0 101.2 L78.0 101.2 L79.0 101.2 L80.0 101.2 L81.0 101.2 L82.0 101.2 L83.0 101.2 L84.0 101.2 L85.0 101.2 L86.0 101.2 L87.0 101.2 L88.0 101.2 L89.0 101.2 L90.0 101.2 L91.0 101.2 L92.0 101.2 L93.0 101.2 L94.0 101.2 L95.0 101.2 L96.0 101.2 L97.0 101.2 L98.0 101.2 L99.0 101.2 L100.0 101.2 L101.0 101.2 L102.0 101.2 L103.0 101.2 L104.0 101.2 L105.0 101.3 L106.0 101.3 L107.0 101.3 L108.0 101.3 L109.0 101.3 L110.0 101.3 L111.0 101.3 L112.0 101.3 L113.0 101.3 L114.0 101.3 L115.0 101.3 L116.0 101.3 L117.0 101.3 L118.0 101.3 L119.0 101.3 L120.0 101.3 L121.0 101.3 L122.0 101.3 L123.0 101.3 L124.0 101.3 L125.0 101.3 L126.0 101.3 L127.0 101.3 L128.0 101.3 L129.0 101.3 L130.0 101.3 L131.0 101.3 L132.0 101.3 L133.0 101.3 L134.0 101.4 L135.0 101.4 L136.0 101.4 L137.0 101.4 L138.0 101.4 L139.0 101.4 L140.0 101.4 L141.0 101.4 L142.0 101.5 L143.0 101.5 L144.0 101.5 L145.0 101.5 L146.0 101.5 L147.0 101.6 L148.0 101.6 L149.0 101.6 L150.0 101.7 L151.0 101.7 L152.0 101.7 L153.0 101.8 L154.0 101.8 L155.0 101.8 L156.0 101.9 L157.0 101.9 L158.0 102.0 L159.0 102.0 L160.0 102.1 L161.0 102.1 L162.0 102.2 L163.0 102.2 L164.0 102.3 L165.0 102.3 L166.0 102.4 L167.0 102.5 L168.0 102.5 L169.0 102.6 L170.0 102.7 L171.0 102.8 L172.0 102.9 L173.0 103.1 L174.0 103.2 L175.0 103.3 L176.0 103.5 L177.0 103.7 L178.0 103.9 L179.0 104.1 L180.0 104.4 L181.0 104.7 L182.0 105.0 L183.0 105.3 L184.0 105.7 L185.0 106.1 L186.0 106.6 L187.0 107.0 L188.0 107.6 L189.0 108.1 L190.0 108.7 L191.0 109.4 L192.0 110.0 L193.0 110.8 L194.0 111.5 L195.0 112.3 L196.0 113.1 L197.0 114.0 L198.0 114.8 L199.0 115.7 L200.0 116.6 L201.0 117.6 L202.0 118.5 L203.0 119.4 L204.0 120.4 L205.0 121.3 L206.0 122.2 L207.0 123.1 L208.0 123.9 L209.0 124.7 L210.0 125.5 L211.0 126.3 L212.0 126.9 L213.0 127.5 L214.0 128.1 L215.0 128.6 L216.0 129.0 L217.0 129.3 L218.0 129.6 L219.0 129.7 L220.0 129.8 L221.0 129.8 L222.0 129.7 L223.0 129.5 L224.0 129.3 L225.0 128.9 L226.0 128.5 L227.0 128.0 L228.0 127.5 L229.0 126.9 L230.0 126.2 L231.0 125.5 L232.0 124.7 L233.0 123.9 L234.0 123.0 L235.0 122.1 L236.0 121.2 L237.0 120.3 L238.0 119.4 L239.0 118.5 L240.0 117.6 L241.0 116.6 L242.0 115.7 L243.0 114.9 L244.0 114.0 L245.0 113.2 L246.0 112.4 L247.0 111.6 L248.0 110.9 L249.0 110.2 L250.0 109.5 L251.0 108.9 L252.0 108.3 L253.0 107.8 L254.0 107.3 L255.0 106.8 L256.0 106.4 L257.0 106.0 L258.0 105.6 L259.0 105.3 L260.0 105.1 L261.0 104.8 L262.0 104.6 L263.0 104.4 L264.0 104.2 L265.0 104.1 L266.0 104.0 L267.0 103.9 L268.0 103.9 L269.0 103.8 L270.0 103.8 L271.0 103.8 L272.0 103.8 L273.0 103.8 L274.0 103.9 L275.0 104.0 L276.0 104.0 L277.0 104.1 L278.0 104.2 L279.0 104.3 L280.0 104.5 L281.0 104.6 L282.0 104.8 L283.0 104.9 L284.0 105.1 L285.0 105.3 L286.0 105.5 L287.0 105.7 L288.0 106.0 L289.0 106.2 L290.0 106.5 L291.0 106.7 L292.0 107.0 L293.0 107.3 L294.0 107.7 L295.0 108.0 L296.0 108.3 L297.0 108.7 L298.0 109.1 L299.0 109.5 L300.0 109.9 L301.0 110.3 L302.0 110.8 L303.0 111.2 L304.0 111.7 L305.0 112.2 L306.0 112.7 L307.0 113.3 L308.0 113.8 L309.0 114.4 L310.0 115.0 L311.0 115.6 L312.0 116.3 L313.0 116.9 L314.0 117.6 L315.0 118.3 L316.0 119.0 L317.0 119.8 L318.0 120.5 L319.0 121.3 L320.0 122.1 L321.0 122.9 L322.0 123.7 L323.0 124.6 L324.0 125.4 L325.0 126.3 L326.0 127.2 L327.0 128.1 L328.0 129.0 L329.0 129.9 L330.0 130.9 L331.0 131.8 L332.0 132.8 L333.0 133.8 L334.0 134.8 L335.0 135.7 L336.0 136.7 L337.0 137.7 L338.0 138.7 L339.0 139.7 L340.0 140.7 L341.0 141.7 L342.0 142.7 L343.0 143.7 L344.0 144.7 L345.0 145.7 L346.0 146.6 L347.0 147.6 L348.0 148.5 L349.0 149.4 L350.0 150.3 L351.0 151.2 L352.0 152.1 L353.0 153.0 L354.0 153.8 L355.0 154.6 L356.0 155.3 L357.0 156.1 L358.0 156.8 L359.0 157.5 L360.0 158.1 L361.0 158.7 L362.0 159.3 L363.0 159.9 L364.0 160.4 L365.0 160.8 L366.0 161.2 L367.0 161.6 L368.0 162.0 L369.0 162.2 L370.0 162.5 L371.0 162.7 L372.0 162.8 L373.0 163.0 L374.0 163.0 L375.0 163.0 L376.0 163.0 L377.0 163.0 L378.0 162.8 L379.0 162.7 L380.0 162.5 L381.0 162.2 L382.0 162.0 L383.0 161.6 L384.0 161.3 L385.0 160.9 L386.0 160.4 L387.0 159.9 L388.0 159.4 L389.0 158.9 L390.0 158.3 L391.0 157.7 L392.0 157.1 L393.0 156.5 L394.0 155.8 L395.0 155.1 L396.0 154.4 L397.0 153.7 L398.0 152.9 L399.0 152.2 L400.0 151.4 L401.0 150.7 L402.0 149.9 L403.0 149.1 L404.0 148.3 L405.0 147.6 L406.0 146.8 L407.0 146.0 L408.0 145.3 L409.0 144.5 L410.0 143.8 L411.0 143.0 L412.0 142.3 L413.0 141.6 L414.0 140.9 L415.0 140.3 L416.0 139.7 L417.0 139.0 L418.0 138.4 L419.0 137.9 L420.0 137.3 L421.0 136.8 L422.0 136.4 L423.0 135.9 L424.0 135.5 L425.0 135.1 L426.0 134.8 L427.0 134.4 L428.0 134.2 L429.0 133.9 L430.0 133.7 L431.0 133.5 L432.0 133.4 L433.0 133.3 L434.0 133.2 L435.0 133.2 L436.0 133.2 L437.0 133.3 L438.0 133.4 L439.0 133.5 L440.0 133.6 L441.0 133.8 L442.0 134.1 L443.0 134.3 L444.0 134.6 L445.0 134.9 L446.0 135.3 L447.0 135.7 L448.0 136.1 L449.0 136.6 L450.0 137.0 L451.0 137.5 L452.0 138.0 L453.0 138.6 L454.0 139.2 L455.0 139.7 L456.0 140.3 L457.0 141.0 L458.0 141.6 L459.0 142.2 L460.0 142.9 L461.0 143.6 L462.0 144.2 L463.0 144.9 L464.0 145.6 L465.0 146.3 L466.0 147.0 L467.0 147.7 L468.0 148.4 L469.0 149.0 L470.0 149.7 L471.0 150.4 L472.0 151.0 L473.0 151.7 L474.0 152.3 L475.0 152.9 L476.0 153.5 L477.0 154.1 L478.0 154.7 L479.0 155.2 L480.0 155.8 L481.0 156.3 L482.0 156.7 L483.0 157.2 L484.0 157.6 L485.0 158.1 L486.0 158.4 L487.0 158.8 L488.0 159.1 L489.0 159.4 L490.0 159.7 L491.0 160.0 L492.0 160.2 L493.0 160.4 L494.0 160.6 L495.0 160.7 L496.0 160.8 L497.0 160.9 L498.0 161.0 L499.0 161.0 L500.0 161.0 L501.0 161.0 L502.0 161.0 L503.0 161.0 L504.0 160.9 L505.0 160.8 L506.0 160.7 L507.0 160.6 L508.0 160.4 L509.0 160.3 L510.0 160.1 L511.0 159.9 L512.0 159.7 L513.0 159.5 L514.0 159.3 L515.0 159.1 L516.0 158.9 L517.0 158.7 L518.0 158.4 L519.0 158.2 L520.0 158.0 L521.0 157.8 L522.0 157.5 L523.0 157.3 L524.0 157.1 L525.0 156.9 L526.0 156.7 L527.0 156.5 L528.0 156.4 L529.0 156.2 L530.0 156.1 L531.0 155.9 L532.0 155.8 L533.0 155.7 L534.0 155.6 L535.0 155.5 L536.0 155.5 L537.0 155.4 L538.0 155.4 L539.0 155.4 L540.0 155.4 L541.0 155.4 L542.0 155.5 L543.0 155.5 L544.0 155.6 L545.0 155.7 L546.0 155.8 L547.0 155.9 L548.0 156.0 L549.0 156.2 L550.0 156.4 L551.0 156.5 L552.0 156.7 L553.0 156.9 L554.0 157.1 L555.0 157.3 L556.0 157.5 L557.0 157.8 L558.0 158.0 L559.0 158.2 L560.0 158.4 L561.0 158.7 L562.0 158.9 L563.0 159.1 L564.0 159.3 L565.0 159.5 L566.0 159.7 L567.0 159.9 L568.0 160.0 L569.0 160.2 L570.0 160.3 L571.0 160.4 L572.0 160.5 L573.0 160.6 L574.0 160.6 L575.0 160.6 L576.0 160.6 L577.0 160.6 L578.0 160.5 L579.0 160.4 L580.0 160.3 L581.0 160.1 L582.0 160.0 L583.0 159.8 L584.0 159.5 L585.0 159.3 L586.0 159.0 L587.0 158.6 L588.0 158.3 L589.0 157.9 L590.0 157.5 L591.0 157.0 L592.0 156.6 L593.0 156.1 L594.0 155.6 L595.0 155.0 L596.0 154.5 L597.0 153.9 L598.0 153.3 L599.0 152.7 L600.0 152.1 L601.0 151.5 L602.0 150.8 L603.0 150.2 L604.0 149.5 L605.0 148.9 L606.0 148.2 L607.0 147.5 L608.0 146.8 L609.0 146.2 L610.0 145.5 L611.0 144.8 L612.0 144.2 L613.0 143.5 L614.0 142.8 L615.0 142.2 L616.0 141.6 L617.0 140.9 L618.0 140.3 L619.0 139.7 L620.0 139.1 L621.0 138.6 L622.0 138.0 L623.0 137.5 L624.0 137.0 L625.0 136.5 L626.0 136.0 L627.0 135.6 L628.0 135.2 L629.0 134.8 L630.0 134.4 L631.0 134.1 L632.0 133.8 L633.0 133.5 L634.0 133.3 L635.0 133.0 L636.0 132.9 L637.0 132.7 L638.0 132.6 L639.0 132.5 L640.0 132.4 L641.0 132.4 L642.0 132.4 L643.0 132.5 L644.0 132.5 L645.0 132.6 L646.0 132.8 L647.0 133.0 L648.0 133.2 L649.0 133.4 L650.0 133.7 L651.0 134.0 L652.0 134.3 L653.0 134.7 L654.0 135.1 L655.0 135.6 L656.0 136.0 L657.0 136.5 L658.0 137.0 L659.0 137.6 L660.0 138.2 L661.0 138.7 L662.0 139.4 L663.0 140.0 L664.0 140.7 L665.0 141.3 L666.0 142.0 L667.0 142.8 L668.0 143.5 L669.0 144.2 L670.0 145.0 L671.0 145.7 L672.0 146.5 L673.0 147.2 L674.0 148.0 L675.0 148.8 L676.0 149.6 L677.0 150.3 L678.0 151.1 L679.0 151.8 L680.0 152.6 L681.0 153.3 L682.0 154.0 L683.0 154.7 L684.0 155.4 L685.0 156.0 L686.0 156.7 L687.0 157.3 L688.0 157.9 L689.0 158.4 L690.0 158.9 L691.0 159.4 L692.0 159.9 L693.0 160.3 L694.0 160.7 L695.0 161.1 L696.0 161.4 L697.0 161.7 L698.0 161.9 L699.0 162.1 L700.0 162.3 L701.0 162.4 L702.0 162.4 L703.0 162.4 L704.0 162.4 L705.0 162.3 L706.0 162.2 L707.0 162.1 L708.0 161.9 L709.0 161.6 L710.0 161.3 L711.0 161.0 L712.0 160.6 L713.0 160.2 L714.0 159.7 L715.0 159.2 L716.0 158.7 L717.0 158.1 L718.0 157.5 L719.0 156.8 L720.0 156.1 L721.0 155.4 L722.0 154.6 L723.0 153.8 L724.0 153.0 L725.0 152.2 L726.0 151.3 L727.0 150.5 L728.0 149.5 L729.0 148.6 L730.0 147.7 L731.0 146.7 L732.0 145.8 L733.0 144.8 L734.0 143.8 L735.0 142.9 L736.0 141.9 L737.0 140.9 L738.0 139.9 L739.0 139.0 L740.0 138.0 L741.0 137.0 L742.0 136.1 L743.0 135.2 L744.0 134.3 L745.0 133.4 L746.0 132.6 L747.0 131.8 L748.0 131.0 L749.0 130.3 L750.0 129.6 L751.0 128.9 L752.0 128.3 L753.0 127.7 L754.0 127.2 L755.0 126.8 L756.0 126.4 L757.0 126.1 L758.0 125.8 L759.0 125.6 L760.0 125.4 L761.0 125.4 L762.0 125.4 L763.0 125.4 L764.0 125.5 L765.0 125.7 L766.0 126.0 L767.0 126.3 L768.0 126.6 L769.0 127.0 L770.0 127.4 L771.0 127.9 L772.0 128.4 L773.0 128.9 L774.0 129.5 L775.0 130.0 L776.0 130.6 L777.0 131.1 L778.0 131.6 L779.0 132.1 L780.0 132.6 L781.0 133.0 L782.0 133.3 L783.0 133.6 L784.0 133.8 L785.0 134.0 L786.0 134.0 L787.0 134.0 L788.0 133.9 L789.0 133.8 L790.0 133.5 L791.0 133.1 L792.0 132.7 L793.0 132.2 L794.0 131.5 L795.0 130.9 L796.0 130.1 L797.0 129.3 L798.0 128.4 L799.0 127.5 L800.0 126.5 L801.0 125.5 L802.0 124.4 L803.0 123.4 L804.0 122.3 L805.0 121.2 L806.0 120.1 L807.0 119.0 L808.0 118.0 L809.0 116.9 L810.0 115.9 L811.0 114.9 L812.0 114.0 L813.0 113.1 L814.0 112.2 L815.0 111.4 L816.0 110.6 L817.0 109.9 L818.0 109.2 L819.0 108.6 L820.0 108.0 L821.0 107.4 L822.0 106.9 L823.0 106.5 L824.0 106.1 L825.0 105.7 L826.0 105.3 L827.0 105.0 L828.0 104.7 L829.0 104.5 L830.0 104.2 L831.0 104.0 L832.0 103.8 L833.0 103.6 L834.0 103.5 L835.0 103.3 L836.0 103.2 L837.0 103.1 L838.0 103.0 L839.0 102.9 L840.0 102.8 L841.0 102.7 L842.0 102.6 L843.0 102.5 L844.0 102.5 L845.0 102.4 L846.0 102.3 L847.0 102.3 L848.0 102.2 L849.0 102.2 L850.0 102.1 L851.0 102.1 L852.0 102.0 L853.0 102.0 L854.0 102.0 L855.0 101.9 L856.0 101.9 L857.0 101.9 L858.0 101.8 L859.0 101.8 L860.0 101.8 L861.0 101.8 L862.0 101.7 L863.0 101.7 L864.0 101.7 L865.0 101.7 L866.0 101.7 L867.0 101.6 L868.0 101.6 L869.0 101.6 L870.0 101.6 L871.0 101.6 L872.0 101.6 L873.0 101.6 L874.0 101.6 L875.0 101.6 L876.0 101.6 L877.0 101.6 L878.0 101.5 L879.0 101.5 L880.0 101.5 L881.0 101.5 L882.0 101.5 L883.0 101.5 L884.0 101.5 L885.0 101.5 L886.0 101.5 L887.0 101.5 L888.0 101.5 L889.0 101.5 L890.0 101.5 L891.0 101.5 L892.0 101.5 L893.0 101.5 L894.0 101.5 L895.0 101.5 L896.0 101.5 L897.0 101.5 L898.0 101.5 L899.0 101.5 L900.0 101.4 L901.0 101.4 L902.0 101.4 L903.0 101.4 L904.0 101.4 L905.0 101.4 L906.0 101.4 L907.0 101.4 L908.0 101.4 L909.0 101.4 L910.0 101.4 L911.0 101.4 L912.0 101.4 L913.0 101.4 L914.0 101.4 L915.0 101.4 L916.0 101.4 L917.0 101.4 L918.0 101.4 L919.0 101.4 L920.0 101.4 L921.0 101.4 L922.0 101.4 L923.0 101.4 L924.0 101.4 L925.0 101.4 L926.0 101.4 L927.0 101.4 L928.0 101.4 L929.0 101.4 L930.0 101.4 L931.0 101.4 L932.0 101.4 L933.0 101.4 L934.0 101.3 L935.0 101.3 L936.0 101.3 L937.0 101.3 L938.0 101.3 L939.0 101.3 L940.0 101.3 L941.0 101.3 L942.0 101.3 L943.0 101.3 L944.0 101.3 L945.0 101.3 L946.0 101.3 L947.0 101.3"/>
</g>
</g>
<g text-anchor="middle">
<text transform="translate(61.5,790) scale(1,1.065)">-10</text>
<text transform="translate(282.8,790) scale(1,1.065)">-5</text>
<text transform="translate(504,790) scale(1,1.065)">0</text>
<text transform="translate(725.3,790) scale(1,1.065)">5</text>
<text transform="translate(946.5,790) scale(1,1.065)">10</text>
<text transform="translate(494.6,839) scale(1.0175,1.035)">Velocity(mm/s)</text>
<text transform="translate(35.3,355.9) rotate(-90) scale(1.0134,1.04)">Transmission (%)</text>
</g>
</svg>
</body></html>
